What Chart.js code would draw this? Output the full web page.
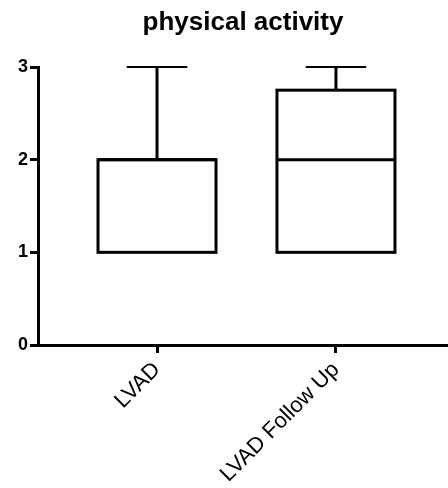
<!DOCTYPE html>
<html>
<head>
<meta charset="utf-8">
<title>physical activity</title>
<script src="https://cdn.jsdelivr.net/npm/chart.js@4/dist/chart.umd.min.js"></script>
<style>
  html, body { margin: 0; padding: 0; background: #ffffff; }
  #wrap { width: 448px; height: 488px; }
</style>
</head>
<body>
<div id="wrap"><canvas id="chart" width="448" height="488"></canvas></div>
<script>
// Box-plot summary for each group
const categories   = ['LVAD', 'LVAD Follow Up'];
const minValues    = [1, 1];
const q1Values     = [1, 1];
const medianValues = [2, 2];
const q3Values     = [2, 2.75];
const maxValues    = [3, 3];
const yTickValues  = [0, 1, 2, 3];

const FONT = "'Liberation Sans', Arial, Helvetica, sans-serif";

// Box outlines, medians and whiskers, stroked over the bar elements using the chart scales
const boxExtras = {
  id: 'boxExtras',
  afterDatasetsDraw(chart) {
    const ctx = chart.ctx;
    const xs = chart.scales.x, ys = chart.scales.y;
    const meta = chart.getDatasetMeta(0);
    ctx.save();
    ctx.strokeStyle = '#000';
    ctx.lineCap = 'butt';
    ctx.lineJoin = 'miter';
    categories.forEach((c, i) => {
      const bar = meta.data[i];
      const cx = xs.getPixelForValue(i + 1);
      const half = bar.width / 2;
      const capHalf = half / 2;
      // box outline, centred on the quartile values
      const yQ1 = ys.getPixelForValue(q1Values[i]);
      const yQ3 = ys.getPixelForValue(q3Values[i]);
      ctx.lineWidth = 3;
      ctx.strokeRect(cx - half + 1.5, yQ3, bar.width - 3, yQ1 - yQ3);
      // median
      const ym = ys.getPixelForValue(medianValues[i]);
      ctx.beginPath();
      ctx.moveTo(cx - half + 1.5, ym);
      ctx.lineTo(cx + half - 1.5, ym);
      ctx.stroke();
      // upper whisker
      if (maxValues[i] > q3Values[i]) {
        const yTop = ys.getPixelForValue(maxValues[i]);
        ctx.lineWidth = 3;
        ctx.beginPath();
        ctx.moveTo(cx, yQ3);
        ctx.lineTo(cx, yTop);
        ctx.stroke();
        ctx.lineWidth = 2;
        ctx.beginPath();
        ctx.moveTo(cx - capHalf, yTop);
        ctx.lineTo(cx + capHalf, yTop);
        ctx.stroke();
      }
      // lower whisker
      if (minValues[i] < q1Values[i]) {
        const yBot = ys.getPixelForValue(minValues[i]);
        ctx.lineWidth = 3;
        ctx.beginPath();
        ctx.moveTo(cx, yQ1);
        ctx.lineTo(cx, yBot);
        ctx.stroke();
        ctx.lineWidth = 2;
        ctx.beginPath();
        ctx.moveTo(cx - capHalf, yBot);
        ctx.lineTo(cx + capHalf, yBot);
        ctx.stroke();
      }
    });
    ctx.restore();
  }
};

new Chart(document.getElementById('chart'), {
  type: 'bar',
  data: {
    datasets: [{
      data: categories.map((c, i) => ({ x: i + 1, y: [q1Values[i], q3Values[i]] })),
      backgroundColor: '#ffffff',
      borderWidth: 0,
      borderSkipped: false,
      barThickness: 121
    }]
  },
  options: {
    responsive: false,
    animation: false,
    events: [],
    layout: { padding: 0 },
    plugins: {
      legend: { display: false },
      tooltip: { enabled: false },
      title: {
        display: true,
        text: 'physical activity',
        fullSize: false,
        color: '#000',
        font: { family: FONT, size: 26, weight: 'bold' },
        padding: { top: 7, bottom: 28.8 }
      }
    },
    scales: {
      x: {
        type: 'linear',
        offset: false,
        min: 0.335,
        max: 2.626,
        afterFit(scale) { scale.height = 143; },
        afterBuildTicks(scale) {
          scale.ticks = categories.map((c, i) => ({ value: i + 1 }));
        },
        border: { display: true, color: '#000', width: 3 },
        grid: {
          offset: false,
          drawOnChartArea: false,
          drawTicks: true,
          tickLength: 8,
          color: '#000',
          lineWidth: 3
        },
        ticks: {
          autoSkip: false,
          minRotation: 45,
          maxRotation: 45,
          padding: 4,
          color: '#000',
          font: { family: FONT, size: 22 },
          callback: (v) => categories[v - 1]
        }
      },
      y: {
        min: 0,
        max: 3,
        afterFit(scale) { scale.width = 38; },
        afterBuildTicks(scale) {
          scale.ticks = yTickValues.map(v => ({ value: v }));
        },
        border: { display: true, color: '#000', width: 3 },
        grid: {
          drawOnChartArea: false,
          drawTicks: true,
          tickLength: 8,
          color: '#000',
          lineWidth: 3
        },
        ticks: {
          padding: 2,
          color: '#000',
          font: { family: FONT, size: 18, weight: 'bold' }
        }
      }
    }
  },
  plugins: [boxExtras]
});
</script>
</body>
</html>
